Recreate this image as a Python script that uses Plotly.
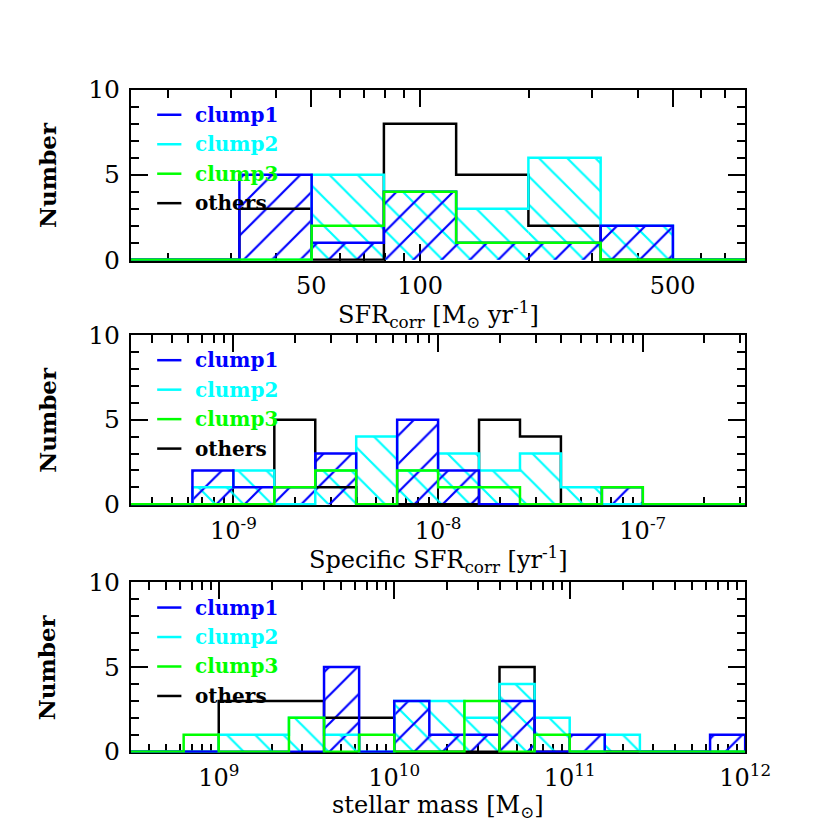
import numpy as np
import plotly.graph_objects as go
from plotly.subplots import make_subplots

# histogram bin edges are in log10 units
sfr_edges = [1.5, 1.7, 1.9, 2.1, 2.3, 2.5, 2.7]
sfr_clump1 = [5, 1, 4, 1, 1, 2]
sfr_clump2 = [0, 5, 4, 3, 6, 2]
sfr_clump3 = [0, 2, 4, 1, 1, 0]
sfr_others = [3, 0, 8, 5, 2, 0]

ssfr_edges = [-9.2, -9.0, -8.8, -8.6, -8.4, -8.2, -8.0, -7.8, -7.6, -7.4, -7.2, -7.0]
ssfr_clump1 = [2, 1, 1, 3, 0, 5, 2, 0, 0, 0, 1]
ssfr_clump2 = [1, 2, 0, 2, 4, 2, 3, 2, 3, 1, 0]
ssfr_clump3 = [0, 0, 1, 2, 0, 2, 1, 1, 0, 0, 1]
ssfr_others = [0, 0, 5, 1, 0, 0, 0, 5, 4, 0, 0]

mass_edges = [8.8, 9.0, 9.2, 9.4, 9.6, 9.8, 10.0, 10.2, 10.4, 10.6, 10.8,
              11.0, 11.2, 11.4, 11.6, 11.8, 12.0]
mass_clump1 = [0, 0, 0, 0, 5, 0, 3, 1, 1, 3, 0, 1, 0, 0, 0, 1]
mass_clump2 = [0, 1, 1, 2, 1, 0, 3, 3, 2, 4, 2, 0, 1, 0, 0, 0]
mass_clump3 = [1, 0, 0, 2, 0, 1, 0, 0, 3, 0, 1, 0, 0, 0, 0, 0]
mass_others = [0, 3, 3, 3, 2, 2, 0, 0, 0, 5, 0, 0, 0, 0, 0, 0]

series_names = ['clump1', 'clump2', 'clump3', 'others']
series_colors = ['#0000ff', '#00ffff', '#00ff00', '#000000']

# x ranges (log10) and labelled ticks for each panel
x_ranges = [[1.2, 2.9], [-9.5, -6.5], [8.5, 12.0]]
tick_vals = [[np.log10(50), 2.0, np.log10(500)], [-9, -8, -7], [9, 10, 11, 12]]
tick_text = [['50', '100', '500'],
             ['10<sup>-9</sup>', '10<sup>-8</sup>', '10<sup>-7</sup>'],
             ['10<sup>9</sup>', '10<sup>10</sup>', '10<sup>11</sup>', '10<sup>12</sup>']]
x_titles = ['SFR<sub>corr</sub> [M<sub>⊙</sub> yr<sup>-1</sup>]',
            'Specific SFR<sub>corr</sub> [yr<sup>-1</sup>]',
            'stellar mass [M<sub>⊙</sub>]']

W = H = 830
FRAME_L, FRAME_R = 127, 761
# top / bottom pixel of each frame
frames = [(70, 247), (324, 500), (580, 756)]
FONT = 'DejaVu Serif'


def px_y(p):
    return 1 - p / H


def minor_ticks(lo, hi):
    vals = []
    for dec in range(int(np.floor(lo)) - 1, int(np.ceil(hi)) + 1):
        for k in range(1, 10):
            v = dec + np.log10(k)
            if lo < v < hi:
                vals.append(v)
    return vals


def step_xy(edges, counts, xr):
    x = [xr[0]] + list(edges) + [xr[1]]
    y = [0] + list(counts) + [0, 0]
    return x, y


fig = make_subplots(rows=3, cols=1)

panels = [
    (sfr_edges, [sfr_clump1, sfr_clump2, sfr_clump3, sfr_others]),
    (ssfr_edges, [ssfr_clump1, ssfr_clump2, ssfr_clump3, ssfr_others]),
    (mass_edges, [mass_clump1, mass_clump2, mass_clump3, mass_others]),
]

for i, (edges, counts) in enumerate(panels):
    row = i + 1
    centers = [(a + b) / 2 for a, b in zip(edges[:-1], edges[1:])]
    widths = [b - a for a, b in zip(edges[:-1], edges[1:])]
    # hatched fills: clump2 "\" , clump1 "/"
    for idx, shape in [(1, '\\'), (0, '/')]:
        fig.add_trace(go.Bar(
            x=centers, y=counts[idx], width=widths, base=0, opacity=1,
            marker=dict(color='rgba(0,0,0,0)', line=dict(width=0),
                        pattern=dict(shape=shape, fgcolor=series_colors[idx],
                                     fgopacity=1, bgcolor='rgba(0,0,0,0)',
                                     size=20, solidity=0.11,
                                     fillmode='overlay')),
            showlegend=False, hoverinfo='skip'), row=row, col=1)
    # outlines: others, clump2, clump1, clump3
    for idx in [3, 1, 0, 2]:
        sx, sy = step_xy(edges, counts[idx], x_ranges[i])
        fig.add_trace(go.Scatter(
            x=sx, y=sy, mode='lines', line_shape='hv',
            line=dict(color=series_colors[idx], width=2.5),
            showlegend=False, hoverinfo='skip'), row=row, col=1)

    top, bot = frames[i]
    xa = 'xaxis' if i == 0 else 'xaxis%d' % row
    ya = 'yaxis' if i == 0 else 'yaxis%d' % row
    fig.layout[xa].update(
        domain=[FRAME_L / W, FRAME_R / W], range=x_ranges[i],
        tickmode='array', tickvals=tick_vals[i], ticktext=tick_text[i],
        ticks='inside', ticklen=17, tickwidth=2, tickcolor='black',
        showline=True, linecolor='black', linewidth=2, mirror='allticks',
        showgrid=False, zeroline=False, layer='below traces',
        ticklabelstandoff=3,
        tickfont=dict(family=FONT, size=24, color='black'),
        minor=dict(tickmode='array', tickvals=minor_ticks(*x_ranges[i]),
                   ticks='inside', ticklen=8, tickwidth=2, tickcolor='black',
                   showgrid=False))
    fig.layout[ya].update(
        domain=[px_y(bot), px_y(top)], range=[-0.05, 10],
        tickmode='array', tickvals=[0, 5, 10],
        ticks='inside', ticklen=17, tickwidth=2, tickcolor='black',
        showline=True, linecolor='black', linewidth=2, mirror='allticks',
        showgrid=False, zeroline=False, layer='below traces',
        ticklabelstandoff=4,
        tickfont=dict(family=FONT, size=25, color='black'),
        minor=dict(tickmode='linear', tick0=0, dtick=1,
                   ticks='inside', ticklen=8, tickwidth=2, tickcolor='black',
                   showgrid=False))

    # axis titles
    fig.add_annotation(text=x_titles[i], xref='paper', yref='paper',
                       x=(FRAME_L + FRAME_R) / 2 / W, y=px_y(bot + 56),
                       showarrow=False, xanchor='center', yanchor='middle',
                       font=dict(family=FONT, size=24, color='black'))
    fig.add_annotation(text='<b>Number</b>', xref='paper', yref='paper',
                       x=40 / W, y=px_y((top + bot) / 2), textangle=-90,
                       showarrow=False, xanchor='center', yanchor='middle',
                       font=dict(family=FONT, size=23, color='black'))

    # legend: short line + coloured label
    for j, name in enumerate(series_names):
        yy = px_y(top + 26 + 30.5 * j)
        fig.add_shape(type='line', xref='paper', yref='paper',
                      x0=154 / W, x1=179 / W, y0=yy, y1=yy,
                      line=dict(color=series_colors[j], width=2.5))
        fig.add_annotation(text='<b>%s</b>' % name, xref='paper', yref='paper',
                           x=191 / W, y=yy, showarrow=False,
                           xanchor='left', yanchor='middle',
                           font=dict(family=FONT, size=20,
                                     color=series_colors[j]))

fig.update_layout(
    width=W, height=H, barmode='overlay',
    margin=dict(l=0, r=0, t=0, b=0),
    paper_bgcolor='white', plot_bgcolor='white',
    showlegend=False,
)

fig.write_html("out.html")
